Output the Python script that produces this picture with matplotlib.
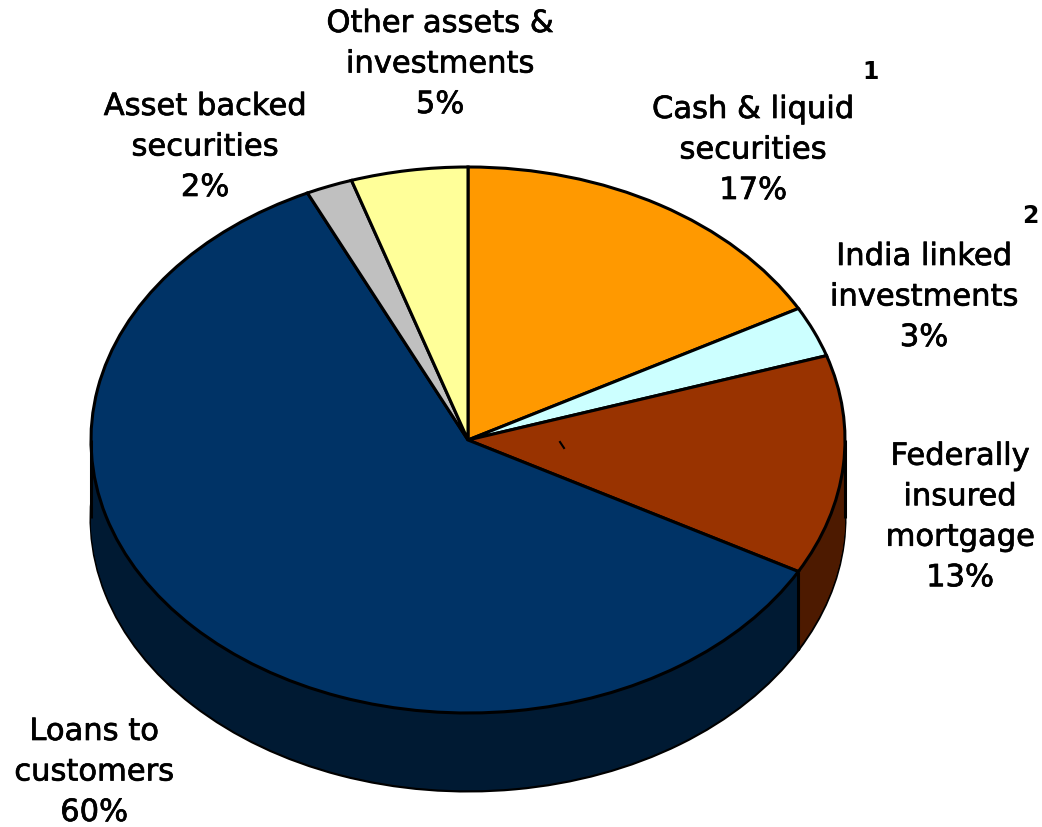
import numpy as np
import matplotlib
matplotlib.use('Agg')
import matplotlib.pyplot as plt
import matplotlib.patheffects as pe

categories = ['Cash & liquid\nsecurities', 'India linked\ninvestments', 'Federally\ninsured\nmortgage',
              'Loans to\ncustomers', 'Asset backed\nsecurities', 'Other assets &\ninvestments']
shares = [17, 3, 13, 60, 2, 5]
top_colors = ['#FF9900', '#CCFFFF', '#993300', '#003366', '#C0C0C0', '#FFFF99']
side_colors = ['#804D00', '#668080', '#4D1A00', '#001A33', '#606060', '#80804D']

W, H = 1042, 827
cx, cy, rx, ry = 468, 440, 377, 273
depth = 78 / ry
lw = 2.2

fig = plt.figure(figsize=(W / 100, H / 100), dpi=100)
ax = fig.add_axes([0, 0, 1, 1])


def draw_pie(y, colors, edge=None):
    ax.pie(shares, colors=colors, startangle=90, counterclock=False, center=(0, y),
           wedgeprops=dict(edgecolor=edge or 'none', linewidth=lw if edge else 0))


# rim: bottom outline, then a stack of dark pies up to the top face
draw_pie(-depth, side_colors, 'black')
for i in range(1, 120):
    draw_pie(-depth + depth * i / 120, side_colors)

# vertical edges of the rim: both sides and the seam between mortgage and loans
seam_angle = np.radians(90 - 3.6 * sum(shares[:3]))
for x, y0 in [(-1, 0), (1, 0), (np.cos(seam_angle), np.sin(seam_angle))]:
    ax.plot([x, x], [y0, y0 - depth], color='black', lw=lw, solid_capstyle='butt')

draw_pie(0, top_colors, 'black')

ax.set_aspect('auto')
ax.set_xlim(-cx / rx, (W - cx) / rx)
ax.set_ylim((cy - H) / ry, cy / ry)

# stray tick on the mortgage slice
ax.plot([(560 - cx) / rx, (564 - cx) / rx], [(cy - 442) / ry, (cy - 448) / ry], color='black', lw=1.5)

# label centres in pixels
label_pos = [(753, 150), (924, 297), (960, 517), (94, 772), (205, 147), (440, 64)]
bolder = [pe.withStroke(linewidth=0.5, foreground='black')]
for name, val, (px, py) in zip(categories, shares, label_pos):
    fig.text(px / W, 1 - py / H, f'{name}\n{val}%', ha='center', va='center',
             fontsize=22, linespacing=1.5, color='black', path_effects=bolder)

# footnote markers
fig.text(871 / W, 1 - 72 / H, '1', ha='center', va='center', fontsize=17, fontweight='bold')
fig.text(1030 / W, 1 - 216 / H, '2', ha='center', va='center', fontsize=17, fontweight='bold')

fig.savefig('out.png', dpi=100)
